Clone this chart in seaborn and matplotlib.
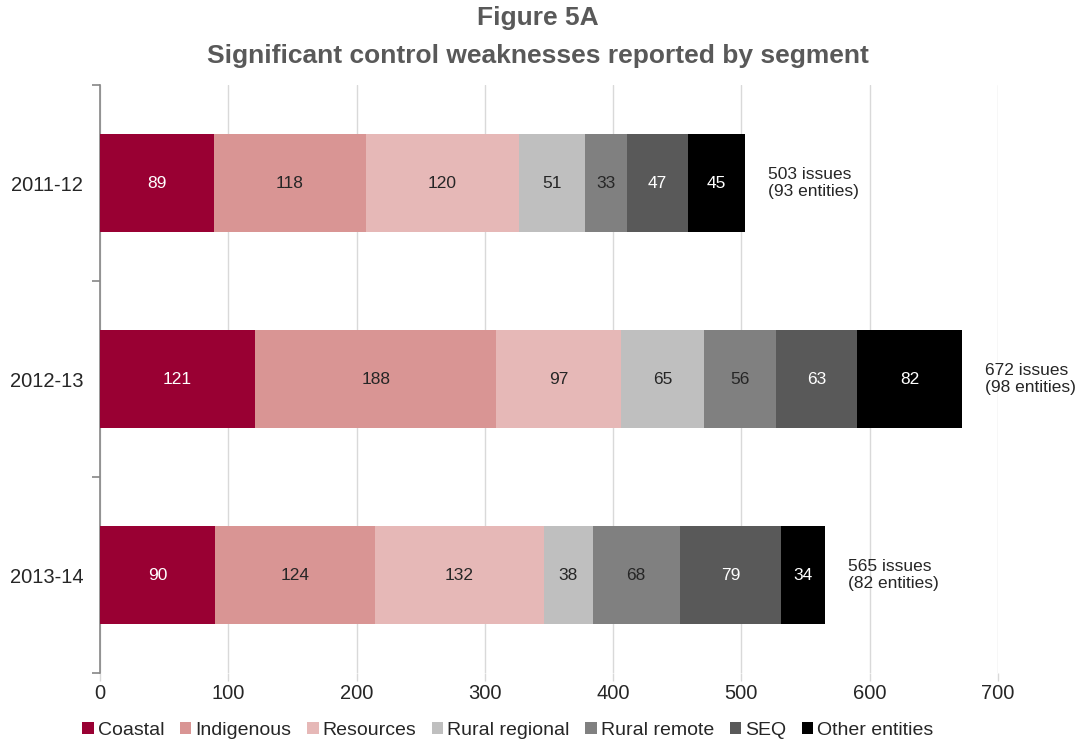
import numpy as np
import pandas as pd
import seaborn as sns
import matplotlib
matplotlib.use("Agg")
import matplotlib.pyplot as plt
from matplotlib.patches import Patch

# Data: significant control weaknesses by segment and year
years = ["2011-12", "2012-13", "2013-14"]
segments = ["Coastal", "Indigenous", "Resources", "Rural regional",
            "Rural remote", "SEQ", "Other entities"]
coastal = [89, 121, 90]
indigenous = [118, 188, 124]
resources = [120, 97, 132]
rural_regional = [51, 65, 38]
rural_remote = [33, 56, 68]
seq = [47, 63, 79]
other_entities = [45, 82, 34]
entities = [93, 98, 82]

colors = ["#990033", "#D99594", "#E6B8B7", "#BFBFBF", "#808080", "#595959", "#000000"]
label_colors = ["white", "#262626", "#262626", "#262626", "#262626", "white", "white"]

series = [coastal, indigenous, resources, rural_regional, rural_remote, seq, other_entities]
values = np.array(series, dtype=float)          # shape (segments, years)
cum = np.cumsum(values, axis=0)                 # right edge of each segment
totals = cum[-1]

df = pd.DataFrame({
    "year": np.repeat([years], len(segments), axis=0).ravel(),
    "segment": np.repeat(segments, len(years)),
    "value": values.ravel(),
    "cum": cum.ravel(),
})

sns.set_theme(style="white")
plt.rcParams["font.family"] = ["Liberation Sans", "DejaVu Sans"]

fig = plt.figure(figsize=(10.76, 7.42), dpi=100)
ax = fig.add_axes([0.0929, 0.0930, 0.8346, 0.7924])

# Stacked bars: draw cumulative totals from the outermost segment inwards
for seg, col in list(zip(segments, colors))[::-1]:
    sub = df[df["segment"] == seg]
    sns.barplot(data=sub, x="cum", y="year", order=years, color=col,
                width=0.5, orient="h", ax=ax, saturation=1, linewidth=0, zorder=3)

# Segment value labels
for s, seg in enumerate(segments):
    for i in range(len(years)):
        v = values[s, i]
        left = cum[s, i] - v
        ax.text(left + v / 2, i, f"{int(v)}", ha="center", va="center",
                fontsize=12.5, color=label_colors[s], zorder=4)

# Totals to the right of each bar
for i in range(len(years)):
    ax.text(totals[i] + 18, i, f"{int(totals[i])} issues\n({entities[i]} entities)",
            ha="left", va="center", fontsize=12.5, color="#262626",
            linespacing=1.2, zorder=4)

ax.set_xlim(0, 700)
ax.set_ylim(2.5, -0.5)
ax.set_xticks(np.arange(0, 701, 100))
ax.set_xlabel("")
ax.set_ylabel("")

ax.xaxis.grid(True, color="#D9D9D9", linewidth=1, zorder=0)
ax.yaxis.grid(False)
ax.set_axisbelow(True)
for side in ["top", "right", "bottom"]:
    ax.spines[side].set_visible(False)
ax.spines["left"].set_color("#868686")
ax.spines["left"].set_linewidth(1.2)

ax.tick_params(axis="x", which="major", length=6, color="#D9D9D9", width=1,
               labelsize=14.5, labelcolor="#262626", pad=2, bottom=True)
ax.tick_params(axis="y", which="major", length=0, labelsize=14.5,
               labelcolor="#262626", pad=12)
ax.set_yticks([-0.5, 0.5, 1.5, 2.5], minor=True)
ax.tick_params(axis="y", which="minor", length=6, color="#868686", width=1.2, left=True)

# Two-line heading
title_style = dict(ha="center", va="center", fontsize=19, fontweight="bold", color="#595959")
fig.text(0.5, 0.976, "Figure 5A", **title_style)
fig.text(0.5, 0.924, "Significant control weaknesses reported by segment", **title_style)

handles = [Patch(facecolor=c, edgecolor="none", label=s) for s, c in zip(segments, colors)]
fig.legend(handles=handles, loc="lower center", bbox_to_anchor=(0.472, -0.019),
           ncol=7, frameon=False, fontsize=14, handlelength=0.6, handleheight=0.6,
           handletextpad=0.2, columnspacing=0.8, labelcolor="#262626")

fig.savefig("out.png", dpi=100)
